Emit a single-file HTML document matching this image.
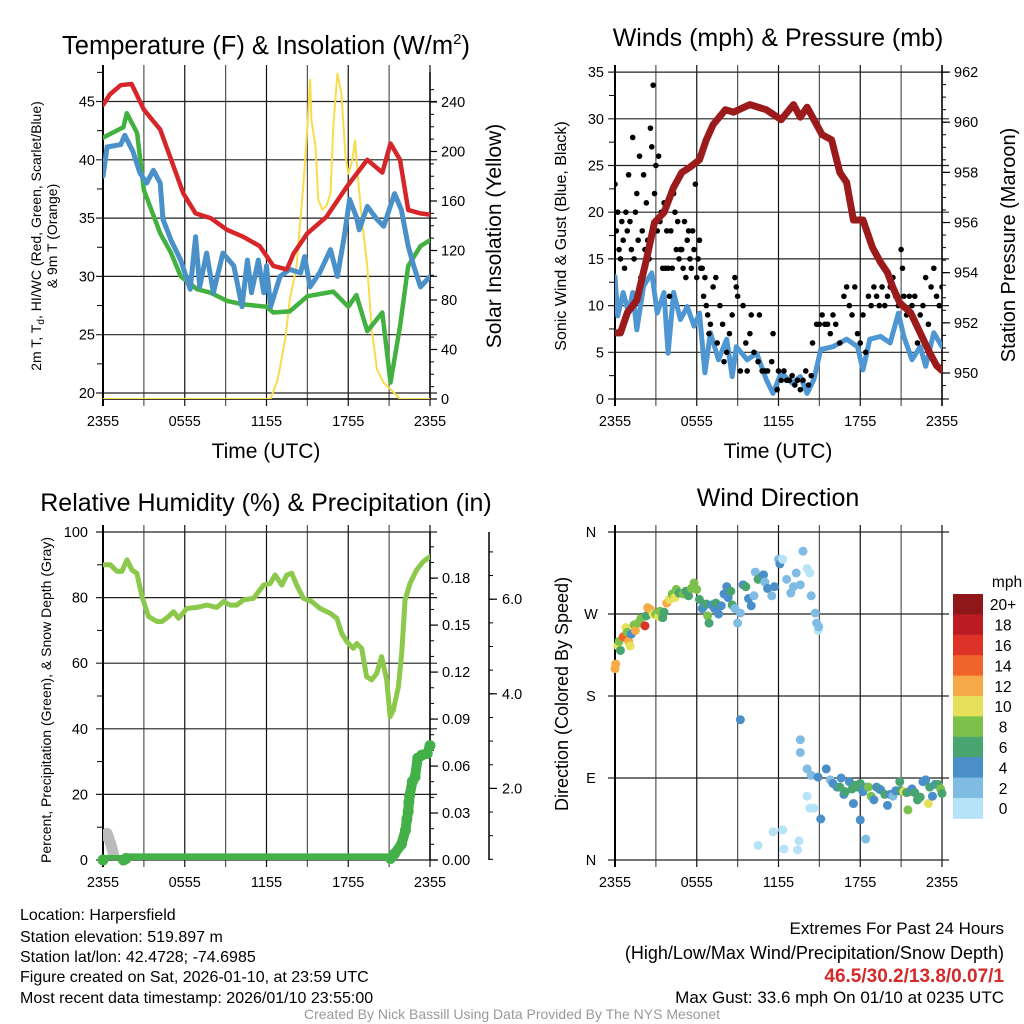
<!DOCTYPE html>
<html><head><meta charset="utf-8">
<style>
html,body{margin:0;padding:0;background:#fff;}
svg{display:block;font-family:"Liberation Sans",Arial,sans-serif;}
</style></head>
<body>
<svg id="chart" width="1024" height="1024" viewBox="0 0 1024 1024" xmlns="http://www.w3.org/2000/svg">
<rect width="1024" height="1024" fill="#fff"/>
<g id="p1"></g>
<g id="p2"></g>
<g id="p3"></g>
<g id="p4"></g>

<text x="266" y="54" font-size="25.5" text-anchor="middle">Temperature (F) &amp; Insolation (W/m<tspan font-size="15" dy="-10">2</tspan><tspan dy="10">)</tspan></text>
<text x="778" y="46" font-size="25" text-anchor="middle">Winds (mph) &amp; Pressure (mb)</text>
<text x="266" y="511" font-size="25" text-anchor="middle">Relative Humidity (%) &amp; Precipitation (in)</text>
<text x="778" y="506" font-size="25" text-anchor="middle">Wind Direction</text>

<text x="266" y="458" font-size="21" text-anchor="middle">Time (UTC)</text>
<text x="778" y="458" font-size="21" text-anchor="middle">Time (UTC)</text>

<text transform="translate(41,236) rotate(-90)" font-size="14" text-anchor="middle">2m T, T<tspan font-size="10" dy="3">d</tspan><tspan dy="-3">, HI/WC (Red, Green, Scarlet/Blue)</tspan></text>
<text transform="translate(57,236) rotate(-90)" font-size="14" text-anchor="middle">&amp; 9m T (Orange)</text>
<text transform="translate(501,236) rotate(-90)" font-size="21" text-anchor="middle">Solar Insolation (Yellow)</text>
<text transform="translate(566,236) rotate(-90)" font-size="16" text-anchor="middle">Sonic Wind &amp; Gust (Blue, Black)</text>
<text transform="translate(1015,245) rotate(-90)" font-size="20" text-anchor="middle">Station Pressure (Maroon)</text>
<text transform="translate(51,700) rotate(-90)" font-size="14" text-anchor="middle">Percent, Precipitation (Green), &amp; Snow Depth (Gray)</text>
<text transform="translate(568,694) rotate(-90)" font-size="18" text-anchor="middle">Direction (Colored By Speed)</text>

<g font-size="16">
<text x="20" y="920">Location: Harpersfield</text>
<text x="20" y="942">Station elevation: 519.897 m</text>
<text x="20" y="962">Station lat/lon: 42.4728; -74.6985</text>
<text x="20" y="982">Figure created on Sat, 2026-01-10, at 23:59 UTC</text>
<text x="20" y="1003">Most recent data timestamp: 2026/01/10 23:55:00</text>
</g>
<g font-size="17" text-anchor="end">
<text x="1004" y="934">Extremes For Past 24 Hours</text>
<text x="1004" y="959" font-size="18">(High/Low/Max Wind/Precipitation/Snow Depth)</text>
<text x="1004" y="982" fill="#d42a2a" font-weight="bold" font-size="19">46.5/30.2/13.8/0.07/1</text>
<text x="1004" y="1003">Max Gust: 33.6 mph On 01/10 at 0235 UTC</text>
</g>
<text x="512" y="1019" font-size="14" fill="#999" text-anchor="middle">Created By Nick Bassill Using Data Provided By The NYS Mesonet</text>
</svg>
<script>
// ---------- DATA ----------
const timeLabels = ["2355","0555","1155","1755","2355"];
// Panel 1
const tempHours = [0,0.5,1.3,2.1,3,4.2,5.9,6.8,7.9,9.1,10.3,11.5,12.5,13.5,14,15,16.4,17.9,19.4,20.5,21.1,21.8,22.4,23.3,24];
const tempVals  = [44.7,45.6,46.4,46.5,44.3,42.6,37.1,35.4,35,34,33.4,32.6,30.9,30.6,32,33.7,35.1,37.7,40,38.9,41.4,40,35.7,35.4,35.3];
const dewHours = [0,1.5,1.75,2.5,3,4.2,5,5.7,6.9,7.9,9.1,10.3,12,12.5,13.7,15,16.9,18,18.6,19.4,20.5,21.1,21.8,22.4,23.3,24];
const dewVals  = [41.9,42.8,44,42.3,37.4,33.7,32,30,28.9,28.6,27.9,27.6,27.4,26.9,27,28.3,28.7,27.4,28.4,25.3,26.9,20.9,25.7,30.9,32.6,33.1];
const hiHours = [0,0.3,1.3,1.6,2.2,2.7,3.2,3.7,4.2,4.4,5,5.7,6.4,6.8,7.1,7.6,8.1,8.8,9.6,10.2,10.6,10.9,11.4,11.8,12,12.3,13,13.7,14.5,14.8,15.2,15.9,16.7,17.2,17.7,18.1,18.6,18.8,19.4,20.1,20.6,21,21.4,21.9,22.4,22.8,23.3,24];
const hiVals  = [38.6,41.1,41.3,42.1,40.7,38.9,38.0,39.1,38.0,34.9,33.1,31.4,28.9,33.4,29.1,32.0,28.6,32.0,30.9,27.4,31.4,28.6,31.4,28.6,30.9,27.4,30.0,30.6,30.3,31.7,29.1,30.3,32.3,30.0,33.4,36.6,35.1,34.0,36.0,34.9,34.3,35.7,37.1,35.7,32.6,30.9,29.1,30.0];
const solarHours = [0,12.3,12.8,13.1,13.4,13.7,14.2,14.4,14.7,15,15.2,15.3,15.6,15.8,16.1,16.4,16.7,16.9,17.2,17.5,17.8,18,18.3,18.5,18.7,19,19.4,19.7,20.1,20.6,21.1,21.8,24];
const solarVals  = [0,0,15,32,50,80,107,134,172,220,258,225,204,161,153,156,166,220,263,247,196,182,193,209,180,145,107,59,24,13,8,0,0];
// Panel 2
const windHours = [0,0.2,0.6,1,1.3,1.6,2.1,2.7,3.1,3.6,3.9,4.3,4.8,5.3,5.8,6.2,6.6,7,7.6,8.2,8.6,8.9,9.7,10.4,11.1,11.6,12.2,13,13.6,14.1,14.6,15.1,16,17,17.8,18.2,18.7,19.5,20.2,20.8,21.2,21.8,22.4,22.8,23.4,24];
const windVals  = [13.1,8.9,11.4,9.2,11.4,7.4,12.1,13.5,9.2,11.4,4.9,11.4,8.5,9.9,7.8,9.2,2.8,7.1,4.2,6.4,2.4,5.6,4.2,4.9,2.1,0.6,2.8,1.7,2.4,0.6,2.1,5.3,5.6,6.4,5.6,3.1,6.4,6.7,6.0,9.2,6.7,4.2,5.6,3.5,7.1,5.6];
const gustHours = [0,0.1,0.2,0.3,0.4,0.5,0.6,0.7,0.8,0.9,1,1.1,1.2,1.3,1.4,1.5,1.6,1.7,1.8,1.9,2,2.1,2.2,2.3,2.4,2.5,2.6,2.7,2.8,2.9,3,3.1,3.2,3.3,3.4,3.5,3.6,3.7,3.8,3.9,4,4.1,4.2,4.3,4.4,4.5,4.6,4.7,4.8,4.9,5,5.1,5.2,5.3,5.4,5.5,5.6,5.7,5.8,5.9,6,6.1,6.2,6.3,6.4,6.5,6.6,6.7,6.8,6.9,7,7.2,7.4,7.5,7.7,7.9,8,8.2,8.4,8.6,8.8,8.9,9,9.2,9.4,9.6,9.7,9.9,10,10.2,10.5,10.6,10.8,11,11.2,11.5,11.6,11.9,12,12.2,12.4,12.6,12.8,13,13.2,13.4,13.6,13.8,14,14.2,14.4,14.5,14.8,15,15.2,15.4,15.6,15.8,16,16.2,16.5,16.8,17,17.2,17.4,17.6,17.8,18,18.2,18.4,18.6,18.8,19,19.2,19.4,19.6,19.8,20,20.2,20.4,20.6,20.8,21,21.1,21.2,21.4,21.6,21.8,22,22.2,22.4,22.6,22.8,23,23.2,23.4,23.6,23.8,24];
const gustVals  = [23,18,20,16,15,19,17,14,20,18,24,19,16,28,15,20,22,17,26,13,18,24,16,21,17,15,29,27,33.6,22,25,18,26,19,20,14,21,14,18,14,11,18,14,22,20,16,19,15,16,16,14,19,13,17,18,15,14,18,16,23,13,15,17,14,14,11,13,10,9,7,8,12,13,6,10,8,4,5,7,9,13,12,11,3,10,6,3,7,9,5,4,9,3,3,3,4,7,1,3,2,3,2,2,2.5,1.5,2,1,2,3,1.5,2.5,6,8,8,9,8,8,7,9,8,6,11,12,10,9,12,7,6,9,5,11,10,12,11,10,12,10,11,12,13,11,10,16,14,11,9,11,10,11,6,9,10,13,8,12,14,11,10,12];
const presHours = [0,0.4,0.9,1.6,2.3,2.9,3.6,4.3,4.9,5.5,6.2,6.7,7.2,8.1,8.7,9.9,11.1,12.2,13.1,13.6,14.1,14.6,15.2,15.9,16.5,17,17.5,18.2,18.9,19.5,20,20.4,20.9,21.7,22.4,23.1,23.6,24];
const presVals  = [951.6,951.6,952.4,952.9,954.5,956,956.4,957.4,958,958.2,958.5,959.3,959.9,960.5,960.4,960.7,960.5,960.1,960.7,960.2,960.6,960.1,959.5,959.3,958,957.6,956.1,956.1,955,954.4,954,953.4,952.8,952.4,951.6,950.8,950.3,950.1];
// Panel 3
const rhHours = [0,0.54,1.03,1.39,1.76,2.13,2.49,2.86,3.35,3.96,4.33,4.81,5.18,5.55,6.16,6.89,7.62,8.36,8.85,9.33,9.82,10.31,11.05,11.78,12.27,12.63,13.12,13.49,13.86,14.22,14.71,15.32,15.93,16.67,17.16,17.52,17.89,18.38,18.62,18.99,19.35,19.72,20.09,20.45,20.82,21.07,21.31,21.68,21.92,22.17,22.53,23.02,23.51,24];
const rhVals  = [90,90,88,88,91.5,88.4,87.4,80.3,74.2,72.7,72.7,74.2,75.7,73.7,76.7,77,77.7,77,78.8,77.7,77.7,79.3,79.8,83.8,84.3,86.9,83.8,86.9,87.4,83.8,79.8,78.8,76.7,75.2,73.7,69.1,66.6,64.5,66,64.5,55.9,54.9,56.9,62,54.9,43.7,45.7,52.8,63,79.3,84.3,88.4,91,92.5];
const precipHours = [0,1.5,1.7,21.1,21.4,21.9,22.2,22.3,22.4,22.45,22.5,22.7,22.9,23.1,23.4,23.8,24];
const precipVals  = [0,0,0.001,0.001,0.004,0.01,0.019,0.026,0.031,0.037,0.041,0.05,0.053,0.065,0.067,0.068,0.073];
const snowHours = [0,0.3,0.6,0.9,1.2];
const snowVals  = [1,1.05,0.8,0.45,0.2];
// Panel 4
const dirHours = [0,0.05,0.2,0.3,0.4,0.6,0.8,0.9,1.0,1.1,1.2,1.4,1.5,1.7,1.9,2.2,2.3,2.4,2.6,2.8,3.0,3.2,3.3,3.5,3.6,3.8,4.0,4.2,4.4,4.5,4.7,5.0,5.2,5.4,5.6,5.8,6.0,6.2,6.4,6.5,6.7,6.8,6.9,7.1,7.3,7.4,7.6,7.8,8.0,8.2,8.3,8.5,8.6,8.8,9.0,9.2,9.4,9.6,9.8,10.0,10.2,10.3,10.5,10.7,10.9,11.0,11.2,11.5,11.7,12.0,12.1,12.3,12.6,12.9,13.1,13.3,13.6,13.8,14.1,14.3,14.4,14.7,14.8,14.9,14.95,9.2,10.5,11.6,12.3,12.4,13.4,13.5,13.6,13.6,14.1,14.4,14.1,14.3,14.6,15.1,14.9,15.5,15.8,16.0,16.3,16.5,16.6,16.8,16.9,17.2,17.4,17.5,17.6,17.8,18.0,18.2,18.0,18.4,18.5,18.6,18.8,19.0,19.2,19.4,19.5,19.8,20.0,20.2,20.4,20.6,20.8,20.9,21.0,21.2,21.4,21.5,21.6,21.8,22.0,22.2,22.4,22.6,22.8,23.0,23.1,23.3,23.5,23.7,23.9,24];
const dirVals  = [210,215,235,240,230,245,255,250,240,235,248,258,252,260,265,257,268,277,275,270,270,267,273,266,272,282,286,292,288,297,293,292,295,290,298,304,297,286,276,278,281,268,260,280,276,282,270,279,292,300,288,295,280,276,260,271,302,300,287,279,290,316,308,310,313,305,298,290,300,330,325,330,308,293,300,315,302,339,320,315,290,271,260,252,256,154,16,31,33,12,11,21,132,118,100,93,70,57,57,45,91,100,88,84,80,80,90,72,75,86,78,62,82,80,84,75,44,23,80,80,70,66,80,78,77,72,60,72,70,76,76,86,76,75,74,55,75,78,74,66,69,86,88,62,80,70,83,83,78,73];
const dirSpeeds= [12,12,10,8,6,14,10,8,12,10,4,8,12,8,8,16,6,12,12,10,8,10,8,6,6,12,10,8,10,8,6,8,6,6,8,8,8,6,4,4,6,8,6,4,4,6,4,4,4,4,4,6,6,2,2,2,4,6,4,4,2,2,6,6,4,2,4,2,4,2,4,0,2,2,2,2,2,2,0,0,2,2,2,0,2,4,0,0,0,0,0,0,2,2,2,2,0,0,0,4,4,4,2,4,4,6,4,4,6,4,6,4,6,6,6,4,4,2,4,8,8,4,4,6,4,6,4,4,2,4,4,6,6,10,6,8,6,4,6,6,6,4,4,10,6,4,4,6,8,6,4,6];
const speedColors = ["#b6e3f8","#80bbe4","#4a8fc8","#49a56f","#7cc14b","#e6e05a","#f6aa47","#ef6429","#dc3228","#bb1c24","#8f1719"];
const speedLabels = ["0","2","4","6","8","10","12","14","16","18","20+"];
const dirLabels = ["N","E","S","W","N"];
const tempTicks = [20,25,30,35,40,45];
const solarTicks = [0,40,80,120,160,200,240];
const windTicks = [0,5,10,15,20,25,30,35];
const presTicks = [950,952,954,956,958,960,962];
const rhTicks = [0,20,40,60,80,100];
const precipTicks = [0,0.03,0.06,0.09,0.12,0.15,0.18];
const snowTicks = [2,4,6];

// ---------- HELPERS ----------
const NS = "http://www.w3.org/2000/svg";
function mk(parent, tag, attrs){ const e=document.createElementNS(NS,tag); for(const k in attrs) e.setAttribute(k,attrs[k]); parent.appendChild(e); return e; }
function txt(parent, x, y, s, size, anchor){ const t=mk(parent,'text',{x:x,y:y,'font-size':size,'text-anchor':anchor||'middle'}); t.textContent=s; return t; }

function panel(g, L, R, T, B, id){
  const xs = h => L + (R-L)*h/24;
  const clip = mk(g,'clipPath',{id:id}); mk(clip,'rect',{x:L,y:T,width:R-L,height:B-T});
  for(let i=0;i<=8;i++){
    const x = xs(i*3);
    const v = mk(g,'line',{x1:x,x2:x,y1:T-7,y2:B+7,stroke:(i%2?'#555':'#111'),'stroke-width':1.2});
    
    
  }
  for(let i=0;i<timeLabels.length;i++){
    const t = txt(g, xs(i*6), B+27, timeLabels[i], 14.5);
    
    
  }
  return xs;
}
function hgrid(g, L, R, ys, ticks, labelX, anchor, fmt){
  ticks.forEach(v=>{
    const y=ys(v);
    const l=mk(g,'line',{x1:L-7,x2:R+7,y1:y,y2:y,stroke:'#222','stroke-width':1.2});
    
    
    if(labelX!==null){
      const t=txt(g,labelX,y+5,fmt?fmt(v):String(v),14.5,anchor);
      
      
    }
  });
}
function minor(g, x, ys, lo, hi, step, len){
  for(let v=lo; v<=hi+1e-9; v+=step){ const y=ys(v); mk(g,'line',{x1:x,x2:x+len,y1:y,y2:y,stroke:'#000','stroke-width':1}); }
}
function rightTicks(g, x, ys, ticks, fmt, len){
  ticks.forEach(v=>{ const y=ys(v); mk(g,'line',{x1:x,x2:x+len,y1:y,y2:y,stroke:'#000','stroke-width':1.2});
    const t=txt(g,x+len+4,y+5,fmt(v),14.5,'start');
    
     });
}
function line(g, hours, vals, xs, ys, color, w, clipId, name){
  let d=''; hours.forEach((h,i)=>{ d+=(i?'L':'M')+xs(h).toFixed(1)+','+ys(vals[i]).toFixed(1); });
  const p=mk(g,'path',{d:d,fill:'none',stroke:color,'stroke-width':w,'stroke-linejoin':'round','stroke-linecap':'round','clip-path':'url(#'+clipId+')'});
  
  
  return p;
}

// ---------- PANEL 1 ----------
(function(){
  const g=document.getElementById('p1'); const L=103,R=430,T=72,B=399;
  const xs=panel(g,L,R,T,B,'c1');
  const yT=v=>393-(v-20)*11.66; const yS=v=>399-v*1.2375;
  hgrid(g,L,R,yT,tempTicks,95,'end');
  minor(g,L-6,yT,22.5,47.5,5,6);
  mk(g,'line',{x1:L,x2:L,y1:T-7,y2:B+7,stroke:'#000','stroke-width':2});
  mk(g,'line',{x1:L,x2:R,y1:B,y2:B,stroke:'#000','stroke-width':1.5});
  mk(g,'line',{x1:R,x2:R,y1:T,y2:B,stroke:'#000','stroke-width':1.5});
  minor(g,R,yS,0,250,10,4);
  rightTicks(g,R,yS,solarTicks,v=>String(v),7);
  line(g,solarHours,solarVals,xs,yS,'#f9dc4a',2,'c1','solar-line');
  line(g,dewHours,dewVals,xs,yT,'#42b140',4.5,'c1','dewpoint-line');
  line(g,hiHours,hiVals,xs,yT,'#4a90c9',5,'c1','windchill-line');
  line(g,tempHours,tempVals,xs,yT,'#d6262a',4.5,'c1','temperature-line');
})();

// ---------- PANEL 2 ----------
(function(){
  const g=document.getElementById('p2'); const L=615,R=942,T=72,B=399;
  const xs=panel(g,L,R,T,B,'c2');
  const yW=v=>399-v*9.34; const yP=v=>373-(v-950)*25.08;
  hgrid(g,L,R,yW,windTicks,604,'end');
  minor(g,L-6,yW,2.5,32.5,5,6);
  mk(g,'line',{x1:L,x2:L,y1:T-7,y2:B+7,stroke:'#000','stroke-width':2});
  mk(g,'line',{x1:R,x2:R,y1:T-7,y2:B+7,stroke:'#000','stroke-width':1.5});
  minor(g,R,yP,949.5,962,0.5,4);
  rightTicks(g,R,yP,presTicks,v=>String(v),8);
  line(g,windHours,windVals,xs,yW,'#4f97d2',5,'c2','wind-line');
  const dg=mk(g,'g',{'clip-path':'url(#c2)'});
  gustHours.forEach((h,i)=>{
    const c=mk(dg,'circle',{cx:xs(h),cy:yW(gustVals[i]),r:2.8,fill:'#000'});
    
    
  });
  line(g,presHours,presVals,xs,yP,'#9b1b1d',7,'c2','pressure-line');
})();

// ---------- PANEL 3 ----------
(function(){
  const g=document.getElementById('p3'); const L=103,R=430,T=532,B=860;
  const xs=panel(g,L,R,T,B,'c3');
  const yR=v=>860-v*3.28; const yPr=v=>860-v*1566; const ySn=v=>883-v*47.3;
  hgrid(g,L,R,yR,rhTicks,88,'end');
  minor(g,L-6,yR,10,90,20,6);
  mk(g,'line',{x1:L,x2:L,y1:T-7,y2:B+7,stroke:'#000','stroke-width':2});
  mk(g,'line',{x1:R,x2:R,y1:T,y2:B,stroke:'#000','stroke-width':1.5});
  minor(g,R,yPr,0,0.2,0.01,4);
  rightTicks(g,R,yPr,precipTicks,v=>v.toFixed(2),8);
  const sx=489;
  mk(g,'line',{x1:sx,x2:sx,y1:T,y2:B,stroke:'#000','stroke-width':1.5});
  for(let v=0.5; v<=7.2; v+=0.5){ const y=ySn(v); if(y<T||y>B) continue; mk(g,'line',{x1:sx,x2:sx+4,y1:y,y2:y,stroke:'#000'}); }
  snowTicks.forEach(v=>{ const y=ySn(v); mk(g,'line',{x1:sx,x2:sx+8,y1:y,y2:y,stroke:'#000','stroke-width':1.2});
    const t=txt(g,sx+13,y+5,v.toFixed(1),14.5,'start');
    
     });
  line(g,rhHours,rhVals,xs,yR,'#8cc84b',5,'c3','humidity-line');
  line(g,snowHours,snowVals,xs,ySn,'#bbbbbb',11,'c3','snow-depth-line');
  line(g,precipHours,precipVals,xs,yPr,'#43b048',10,'c3','precip-band');
  precipHours.forEach((h,i)=>{
    const c=mk(g,'circle',{cx:xs(h),cy:yPr(precipVals[i]),r:5.5,fill:'#43b048'});
    
    
  });
})();

// ---------- PANEL 4 ----------
(function(){
  const g=document.getElementById('p4'); const L=615,R=942,T=532,B=860;
  const xs=panel(g,L,R,T,B,'c4');
  const yD=v=>860-v*328/360;
  hgrid(g,L,R,yD,[0,90,180,270,360],null);
  dirLabels.forEach((s,i)=>{ const t=txt(g,591,yD(i*90)+5,s,14.5);   });
  mk(g,'line',{x1:L,x2:L,y1:T-7,y2:B+7,stroke:'#000','stroke-width':2});
  dirHours.forEach((h,i)=>{
    const k=Math.min(10,Math.floor(dirSpeeds[i]/2));
    const c=mk(g,'circle',{cx:xs(h),cy:yD(dirVals[i]),r:4.5,fill:speedColors[k]});
    
    
  });
  const cb=mk(g,'g',{});
  
  
  const top=594, bh=20.4;
  for(let i=0;i<11;i++){
    const k=10-i; const y=top+i*bh;
    mk(cb,'rect',{x:953,y:y,width:30,height:bh+0.5,fill:speedColors[k]});
    const t=txt(cb,1003,y+bh/2+6,speedLabels[k],15.5);
    
    
  }
  const u=txt(cb,1007,587,'mph',15.5);
  
  
})();
</script>
</body></html>
